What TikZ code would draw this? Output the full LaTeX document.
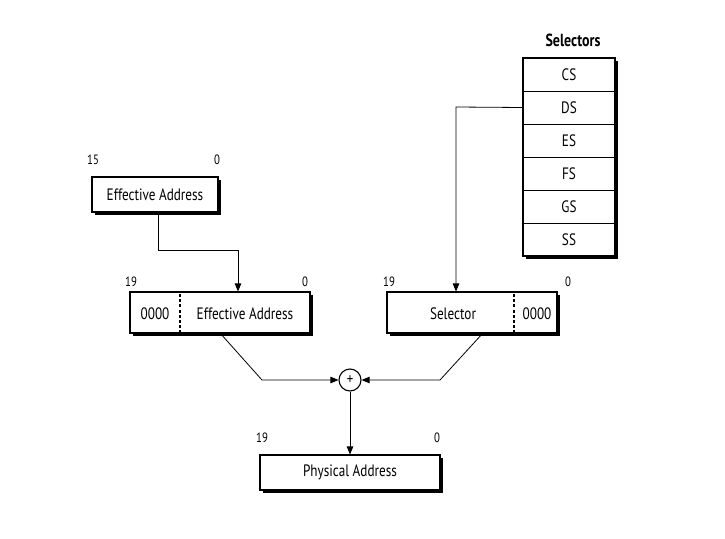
\documentclass[tikz,border=0pt]{standalone}
\usepackage{fontspec}
\setmainfont{PT Sans}[FakeStretch=0.8]
\usetikzlibrary{arrows.meta,shadows}
\begin{document}
\begin{tikzpicture}[x=1pt,y=-1pt,
  box/.style={draw=black,line width=1.1pt,fill=white,minimum height=#1,inner sep=0pt,
    drop shadow={shadow xshift=3pt,shadow yshift=-3pt,opacity=1,fill=black}},
  box/.default=35pt,
  txt/.style={font=\fontsize{16.5}{18}\selectfont,inner sep=0pt},
  num/.style={font=\fontsize{13.5}{15}\selectfont,inner sep=0pt},
  conn/.style={line width=0.8pt},
  arr/.style={conn,-{Triangle[length=8pt,width=6.5pt]}},
  divider/.style={line width=1.3pt,dash pattern=on 3pt off 2.2pt}]
\useasboundingbox (0,0) rectangle (725,538);
% Selectors stack
\node[font=\bfseries\fontsize{17.5}{19}\selectfont,inner sep=0pt] (seltitle) at (573,40) {Selectors};
\node[box=198pt,minimum width=92pt] (stack) at (569,157) {};
\foreach \n/\t [count=\i] in {cs/CS,ds/DS,es/ES,fs/FS,gs/GS,ss/SS}{
  \node[draw,line width=0.8pt,minimum width=92pt,minimum height=33pt,inner sep=0pt,txt] (\n) at (569,58+33*\i-16.5) {\t};
}
\draw[line width=1.1pt] (stack.north west) rectangle (stack.south east);
% Top Effective Address
\node[box,minimum width=126pt] (ea) at (155,194.5) {};
\node[txt] (eatxt) at (ea.center) {Effective Address};
\node[num] (ea15) at (93,160) {15};
\node[num] (ea0) at (217,160) {0};
% Middle left box
\node[box=41pt,minimum width=180pt] (lbox) at (220,312.5) {};
\node[txt] (pad1) at (155,314) {0000};
\node[txt] (ea2) at (245,314) {Effective Address};
\coordinate (d1t) at (180,294);
\coordinate (d1b) at (180,332);
\draw[divider] (d1t) -- (d1b);
\node[num] (l19) at (131,282) {19};
\node[num] (l0) at (305,282) {0};
% Middle right box
\node[box=41pt,minimum width=170pt] (rbox) at (472,312.5) {};
\node[txt] (sel) at (453,314) {Selector};
\node[txt] (pad2) at (537,314) {0000};
\coordinate (d2t) at (514,294);
\coordinate (d2b) at (514,332);
\draw[divider] (d2t) -- (d2b);
\node[num] (r19) at (389,282) {19};
\node[num] (r0) at (568,282) {0};
% Adder
\node[draw,circle,line width=1.1pt,minimum size=22pt,inner sep=0pt,font=\fontsize{16}{16}\selectfont] (add) at (350,380) {+};
% Physical Address
\node[box,minimum width=180pt] (pa) at (350,472.5) {};
\node[txt] (patxt) at (pa.center) {Physical Address};
\node[num] (p19) at (262,438) {19};
\node[num] (p0) at (437,438) {0};
% Connectors
\coordinate (b1) at (158,250);
\coordinate (b2) at (238,250);
\draw[arr] (ea.south -| b1) -- (b1) -- (b2) -- (lbox.north -| b2);
\coordinate (c1) at (456,107);
\draw[arr] (ds.west) -- (c1) -- (rbox.north -| c1);
\coordinate (e1) at (220,333);
\coordinate (e2) at (262,380);
\draw[arr] (e1) -- (e2) -- (add.west);
\coordinate (f1) at (483,333);
\coordinate (f2) at (440,380);
\draw[arr] (f1) -- (f2) -- (add.east);
\draw[arr] (add.south) -- (pa.north);
\end{tikzpicture}
\end{document}
